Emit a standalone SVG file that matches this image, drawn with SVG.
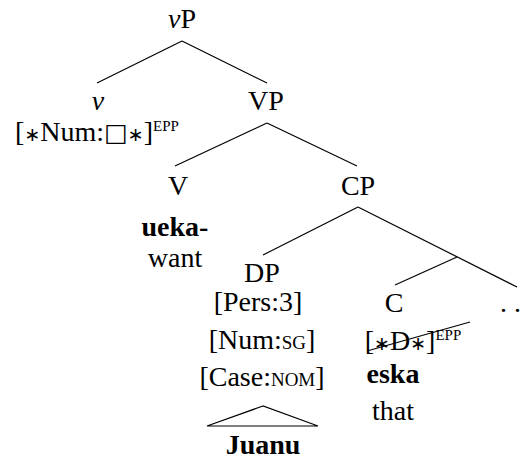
<svg xmlns="http://www.w3.org/2000/svg" width="528" height="460" viewBox="0 0 528 460" font-family="'Liberation Serif', serif">
<style>
text{font-family:"Liberation Serif",serif;font-size:28px;fill:#000;text-anchor:middle}
.b{font-weight:bold}
.i{font-style:italic}
.sc{font-size:19px}
.sup{font-size:15px}
.sym{font-family:"DejaVu Sans","Liberation Serif",sans-serif;font-size:19px}
.sq{font-family:"DejaVu Sans","Liberation Serif",sans-serif;font-size:25px}
line,polygon{stroke:#000;stroke-width:1.2;fill:none}
</style>
<rect width="528" height="460" fill="#fff"/>
<g id="edges">
<line x1="182" y1="41" x2="97" y2="83"/>
<line x1="182" y1="41" x2="267" y2="83"/>
<line x1="267" y1="123" x2="175" y2="166"/>
<line x1="267" y1="123" x2="357" y2="166"/>
<line x1="358" y1="207" x2="263" y2="255"/>
<line x1="358" y1="207" x2="517" y2="287"/>
<line x1="457" y1="257" x2="395" y2="285"/>
<polygon points="263,406 207,426 318,426"/>
</g>
<g id="vP"><text x="182" y="28"><tspan class="i">v</tspan>P</text></g>
<g id="v">
<text x="98" y="110" class="i">v</text>
<text x="97" y="141">[<tspan class="sym">∗</tspan>Num:<tspan class="sq">□</tspan><tspan class="sym">∗</tspan>]<tspan class="sup" dy="-10">EPP</tspan></text>
</g>
<g id="VP"><text x="266" y="110">VP</text></g>
<g id="V">
<text x="178" y="195">V</text>
<text x="175" y="236" class="b">ueka-</text>
<text x="175" y="267">want</text>
</g>
<g id="CP"><text x="358" y="195">CP</text></g>
<g id="DP">
<text x="262" y="282">DP</text>
<text x="258" y="311">[Pers:3]</text>
<text x="262" y="349">[Num:<tspan class="sc">SG</tspan>]</text>
<text x="262" y="386">[Case:<tspan class="sc">NOM</tspan>]</text>
<text x="263" y="454" class="b">Juanu</text>
</g>
<g id="C">
<text x="394" y="312">C</text>
<text x="413" y="350">[<tspan class="sym">∗</tspan>D<tspan class="sym">∗</tspan>]<tspan class="sup" dy="-10">EPP</tspan></text>
<line x1="367" y1="351" x2="470" y2="322" stroke="#000" stroke-width="1.2"/>
<text x="393" y="383" class="b">eska</text>
<text x="393" y="420">that</text>
</g>
<g id="dots"><text x="500" y="312" style="text-anchor:start">. .</text></g>
</svg>
